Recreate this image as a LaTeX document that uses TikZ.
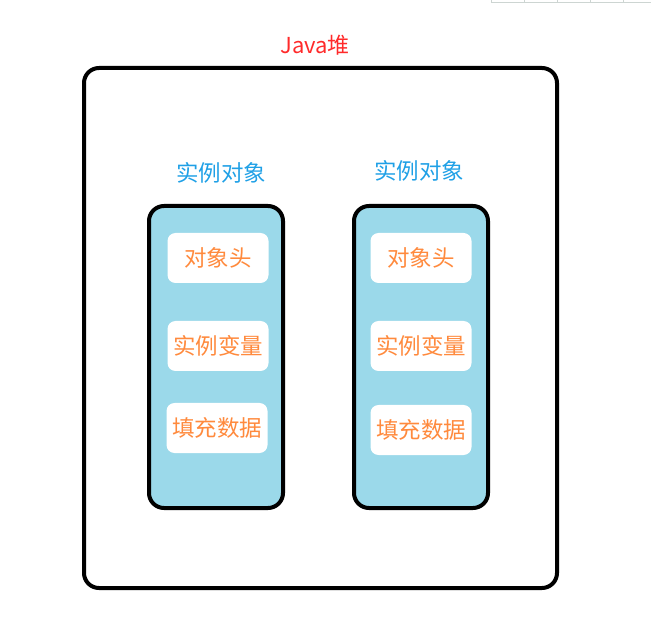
\documentclass[tikz,border=0pt]{standalone}
\usepackage{fontspec}
\newfontfamily\cjk{Noto Sans CJK SC}
\definecolor{capblue}{HTML}{9BD9EA}
\definecolor{lblblue}{HTML}{1FA0E6}
\definecolor{fldorange}{HTML}{FF8A3D}
\definecolor{ttlred}{HTML}{FF2A2A}
\definecolor{gridgray}{HTML}{CDD5D2}
\tikzset{
  heap/.style={draw=black, line width=4pt, rounded corners=15pt},
  capsule/.style={draw=black, line width=4pt, fill=capblue, rounded corners=15pt},
  field/.style={fill=white, rounded corners=8pt, minimum width=101pt, minimum height=50pt, inner sep=0pt, font=\cjk\fontsize{22.5}{26}\selectfont, text=fldorange},
  objlabel/.style={font=\cjk\fontsize{22.5}{26}\selectfont, text=lblblue},
  title/.style={font=\cjk\fontsize{22}{26}\selectfont, text=ttlred}
}
\begin{document}
\begin{tikzpicture}[x=1pt,y=-1pt]
\useasboundingbox (0,0) rectangle (651,628);
% faint artifact at top right
\draw[gridgray, line width=0.8pt] (491,2) -- (651,2);
\foreach \gx in {491,524,557,590,623} \draw[gridgray, line width=0.5pt] (\gx,0) -- (\gx,2);
\node[title] (ttl) at (315,45) {Java堆};
\draw[heap] (84,68) rectangle (557,588);
% left object
\node[objlabel] (lbl1) at (221,173) {实例对象};
\draw[capsule] (149,206) rectangle (283,508);
\node[field] (h1) at (218,258) {对象头};
\node[field] (v1) at (218,346) {实例变量};
\node[field] (p1) at (217,428) {填充数据};
% right object
\node[objlabel] (lbl2) at (419,171) {实例对象};
\draw[capsule] (354,206) rectangle (488,508);
\node[field] (h2) at (421,258) {对象头};
\node[field] (v2) at (421,346) {实例变量};
\node[field] (p2) at (421,430) {填充数据};
\end{tikzpicture}
\end{document}
